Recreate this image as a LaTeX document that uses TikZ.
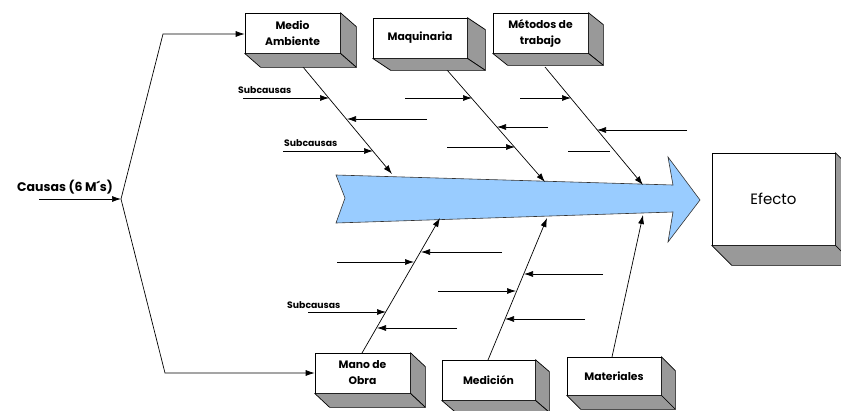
\documentclass[tikz,border=0pt]{standalone}
\usepackage{fontspec}
\setmainfont{Poppins}
\usetikzlibrary{arrows.meta}
\definecolor{shaftblue}{HTML}{99CCFF}
\definecolor{sidegrey}{HTML}{999999}
\tikzset{
  cube/.style={draw=black, line width=0.7pt, fill=white, inner sep=0pt, align=center,
    font=\bfseries\fontsize{10.8}{16}\selectfont},
  face/.style={draw=black, line width=0.7pt, fill=sidegrey, line join=round},
  bone/.style={draw=black, line width=0.7pt, -{Latex[length=9pt,width=6pt]}},
  plain/.style={draw=black, line width=0.7pt},
  lbl/.style={font=\bfseries\fontsize{9.3}{10}\selectfont, anchor=west, inner sep=0pt},
}
% grey side and bottom faces behind a front node: name, dx, dy
\newcommand\cubefaces[3]{%
  \path[face] (#1.north east) -- ([shift={(#2,#3)}]#1.north east)
    -- ([shift={(#2,#3)}]#1.south east) -- (#1.south east) -- cycle;
  \path[face] (#1.south west) -- ([shift={(#2,#3)}]#1.south west)
    -- ([shift={(#2,#3)}]#1.south east) -- (#1.south east) -- cycle;
}
\begin{document}
\begin{tikzpicture}[x=1pt,y=-1pt]
\useasboundingbox (0,0) rectangle (841,410);

% effect arrow (spine)
\path[draw=black!80, line width=0.6pt, fill=shaftblue, line join=miter]
  (336,175) -- (673,185) -- (668,157) -- (700,200) -- (668,242) -- (673,212)
  -- (336,223) -- (345,198) -- cycle;

% points on the spine where the main causes arrive
\coordinate (s1) at (392,174);
\coordinate (s2) at (545,182);
\coordinate (s3) at (643,185);
\coordinate (s4) at (440,218);
\coordinate (s5) at (547,218);
\coordinate (s6) at (643,215);

% bone roots under the cause boxes
\coordinate (r1) at (303,67);
\coordinate (r2) at (447,70);
\coordinate (r3) at (545,67);
\coordinate (r4) at (362,353);
\coordinate (r5) at (488,360);
\coordinate (r6) at (612,357);

\draw[bone] (r1) -- (s1);
\draw[bone] (r2) -- (s2);
\draw[bone] (r3) -- (s3);
\draw[bone] (r4) -- (s4);
\draw[bone] (r5) -- (s5);
\draw[bone] (r6) -- (s6);

% cause boxes
\node[cube, minimum width=95pt, minimum height=40pt] (medio) at (292.5,33) {Medio\\Ambiente};
\cubefaces{medio}{16}{14}
\node[cube, minimum width=94pt, minimum height=40pt] (maq) at (420,38) {Maquinaria};
\cubefaces{maq}{18}{12}
\node[cube, minimum width=95pt, minimum height=40pt] (metodos) at (540.5,33) {Métodos de\\trabajo};
\cubefaces{metodos}{15}{12}
\node[cube, minimum width=95pt, minimum height=40pt] (mano) at (362.5,373) {Mano de\\Obra};
\cubefaces{mano}{15}{14}
\node[cube, minimum width=93pt, minimum height=40pt] (medicion) at (488.5,380) {Medición};
\cubefaces{medicion}{14}{12}
\node[cube, minimum width=94pt, minimum height=38pt] (materiales) at (614,376) {Materiales};
\cubefaces{materiales}{14}{14}

% effect box
\node[cube, minimum width=123pt, minimum height=92pt, font=\fontsize{15}{17}\selectfont] (efecto) at (773.5,199) {Efecto};
\cubefaces{efecto}{20}{20}

% causes bracket
\node[font=\bfseries\fontsize{12.5}{14}\selectfont, inner sep=0pt] (causas) at (65,187) {Causas (6 M´s)};
\coordinate (cin) at (39,199);
\coordinate (vx) at (121,199);
\coordinate (ktop) at (163,34);
\coordinate (kbot) at (165,373);
\draw[bone] (cin) -- (vx);
\draw[bone] (vx) -- (ktop) -- (ktop -| medio.west);
\draw[bone] (vx) -- (kbot) -- (kbot -| mano.west);

% sub-cause labels
\node[lbl] (sc1) at (238,90) {Subcausas};
\node[lbl] (sc2) at (284,143) {Subcausas};
\node[lbl] (sc3) at (287,305) {Subcausas};

% sub-cause arrows, upper bones
\coordinate (a1) at (243,98);  \coordinate (e1) at (329,98);
\coordinate (a2) at (427,119); \coordinate (e2) at (347,119);
\coordinate (a3) at (283,151); \coordinate (e3) at (373,151);
\coordinate (a4) at (405,98);  \coordinate (e4) at (472,98);
\coordinate (a5) at (548,127); \coordinate (e5) at (497,127);
\coordinate (a6) at (447,147); \coordinate (e6) at (515,147);
\coordinate (a7) at (520,98);  \coordinate (e7) at (571,98);
\coordinate (a8) at (687,130); \coordinate (e8) at (597,130);
\coordinate (a9) at (568,151); \coordinate (e9) at (610,151);
\foreach \i in {1,...,8} \draw[bone] (a\i) -- (e\i);
\draw[plain] (a9) -- (e9);

% sub-cause arrows, lower bones
\coordinate (b1) at (502,252); \coordinate (f1) at (421,252);
\coordinate (b2) at (337,262); \coordinate (f2) at (414,262);
\coordinate (b3) at (603,274); \coordinate (f3) at (524,274);
\coordinate (b4) at (438,291); \coordinate (f4) at (516,291);
\coordinate (b5) at (308,312); \coordinate (f5) at (386,312);
\coordinate (b6) at (457,328); \coordinate (f6) at (377,328);
\coordinate (b7) at (585,319); \coordinate (f7) at (505,319);
\foreach \i in {1,...,7} \draw[bone] (b\i) -- (f\i);
\end{tikzpicture}
\end{document}
